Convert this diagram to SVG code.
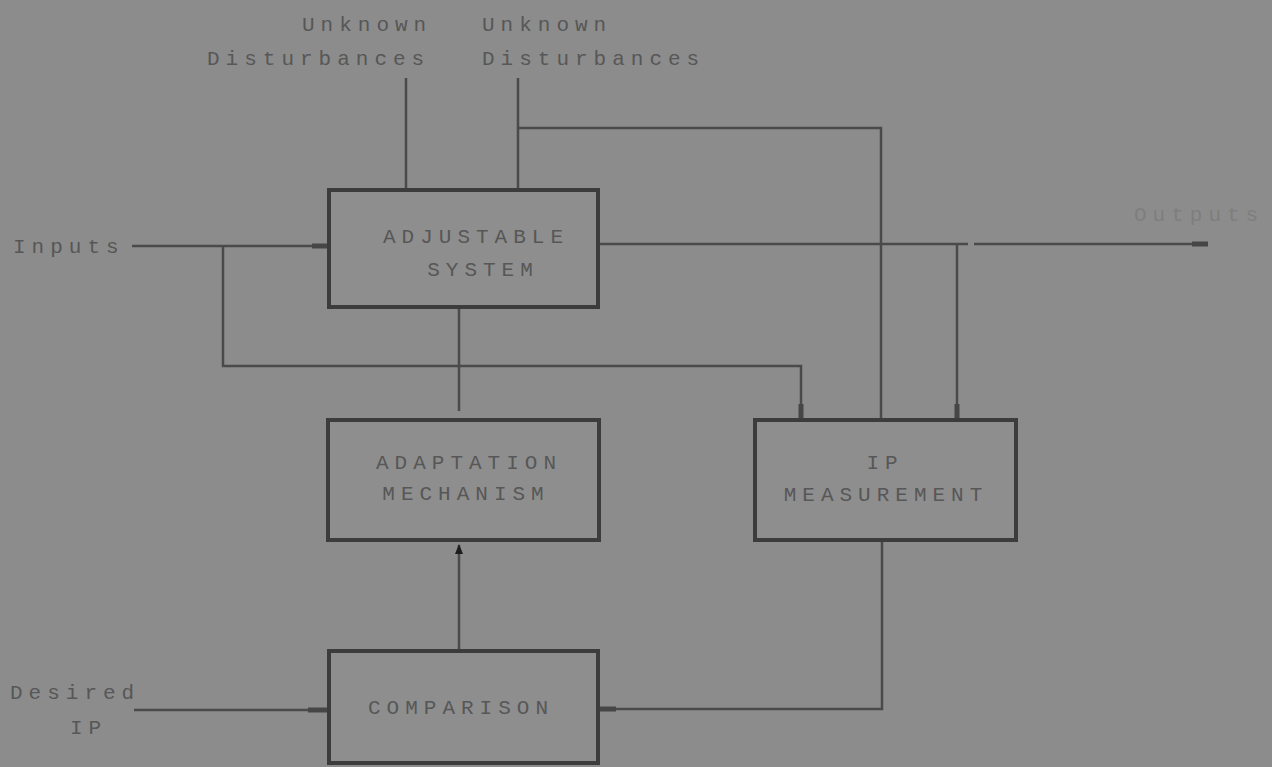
<svg xmlns="http://www.w3.org/2000/svg" width="1272" height="767" viewBox="0 0 1272 767">
  <style>
    .box { fill: #8e8e8e; stroke: #3c3c3c; stroke-width: 4; }
    .lbl { font-family: "Liberation Mono", "DejaVu Sans Mono", monospace; font-size: 21px; fill: #575757; letter-spacing: 6px; }
    .lblc { text-anchor: middle; }
    .wire { fill: none; stroke: #4a4a4a; stroke-width: 2.5; }
    .stub { fill: none; stroke: #464646; stroke-width: 5; }
  </style>
  <defs>
    <marker id="tip" viewBox="0 0 10 10" refX="9" refY="5" markerWidth="4" markerHeight="5" orient="auto">
      <path d="M0,1 L10,5 L0,9 Z" fill="#1e1e1e"/>
    </marker>
  </defs>
  <rect width="1272" height="767" fill="#8c8c8c"/>

  <g id="connectors">
    <!-- disturbances into the adjustable system -->
    <line class="wire" x1="406" y1="78" x2="406" y2="190"/>
    <line class="wire" x1="518" y1="78" x2="518" y2="190"/>
    <polyline class="wire" points="518,128 881,128 881,420"/>
    <!-- inputs -->
    <line class="wire" x1="132" y1="246" x2="329" y2="246"/>
    <line class="stub" x1="312" y1="246" x2="329" y2="246"/>
    <polyline class="wire" points="223,246 223,366 801,366 801,420"/>
    <line class="stub" x1="801" y1="404" x2="801" y2="418"/>
    <!-- outputs -->
    <line class="wire" x1="598" y1="244" x2="968" y2="244"/>
    <line class="wire" x1="974" y1="244" x2="1208" y2="244"/>
    <line class="stub" x1="1192" y1="244" x2="1208" y2="244"/>
    <line class="wire" x1="957" y1="244" x2="957" y2="420"/>
    <line class="stub" x1="957" y1="404" x2="957" y2="418"/>
    <!-- system to adaptation mechanism -->
    <line class="wire" x1="459" y1="307" x2="459" y2="411"/>
    <!-- comparison up to adaptation mechanism -->
    <line class="wire" x1="459" y1="650" x2="459" y2="545" marker-end="url(#tip)"/>
    <!-- IP measurement to comparison -->
    <polyline class="wire" points="882,540 882,709 598,709"/>
    <line class="stub" x1="598" y1="709" x2="616" y2="709"/>
    <!-- desired IP -->
    <line class="wire" x1="134" y1="710" x2="329" y2="710"/>
    <line class="stub" x1="308" y1="710" x2="329" y2="710"/>
  </g>

  <g id="adjustable-system">
    <rect class="box" x="329" y="190" width="269" height="117"/>
    <text class="lbl lblc" x="476" y="243">ADJUSTABLE</text>
    <text class="lbl lblc" x="483" y="276">SYSTEM</text>
  </g>

  <g id="adaptation-mechanism">
    <rect class="box" x="328" y="420" width="271" height="120"/>
    <text class="lbl lblc" x="469" y="469">ADAPTATION</text>
    <text class="lbl lblc" x="466" y="500">MECHANISM</text>
  </g>

  <g id="ip-measurement">
    <rect class="box" x="755" y="420" width="261" height="120"/>
    <text class="lbl lblc" x="885" y="469">IP</text>
    <text class="lbl lblc" x="886" y="501">MEASUREMENT</text>
  </g>

  <g id="comparison">
    <rect class="box" x="329" y="651" width="269" height="112"/>
    <text class="lbl lblc" x="461" y="714">COMPARISON</text>
  </g>

  <g id="labels">
    <text class="lbl" x="302" y="31">Unknown</text>
    <text class="lbl" x="207" y="65">Disturbances</text>
    <text class="lbl" x="482" y="31">Unknown</text>
    <text class="lbl" x="482" y="65">Disturbances</text>
    <text class="lbl" x="13" y="253">Inputs</text>
    <text class="lbl" x="1134" y="221" style="fill:#7e7e7e">Outputs</text>
    <text class="lbl" x="10" y="699">Desired</text>
    <text class="lbl" x="70" y="734">IP</text>
  </g>
</svg>
